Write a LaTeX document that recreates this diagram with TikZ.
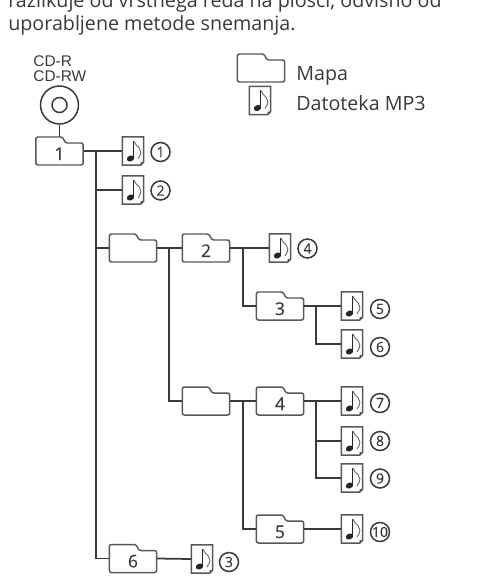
\documentclass[tikz,border=0pt]{standalone}
\usepackage{fontspec}
\setmainfont{Open Sans}
\newfontfamily\cdfont{Liberation Sans}
\newfontfamily\digitfont{Open Sans}[FakeBold=0.25]
\definecolor{inkgray}{HTML}{3A3A3A}
\tikzset{
  conn/.style={draw=inkgray,line width=1pt},
  outline/.style={draw=inkgray!85,line width=0.85pt,rounded corners=1.2pt},
  foldbox/.style={minimum width=0.95cm,minimum height=0.56cm,inner sep=0pt,text=inkgray,font=\digitfont\fontsize{10}{10}\selectfont},
  notebox/.style={minimum width=0.43cm,minimum height=0.57cm,inner sep=0pt},
  numcircle/.style={circle,draw=inkgray,line width=0.85pt,minimum size=0.38cm,inner sep=0pt,text=inkgray,font=\digitfont\fontsize{8}{8}\selectfont},
  plaintext/.style={anchor=base west,inner sep=0pt,text=inkgray},
}
% mapa: ime, sredisce, besedilo
\newcommand{\folder}[3]{
  \begin{scope}[shift={(#2)}]
    \node[foldbox] (#1) at (0,0) {\raisebox{-0.18cm}[0pt][0pt]{#3}};
    \draw[outline] (-23.7,-14) -- (3,-14) -- (6,-8) -- (23.7,-8) -- (23.7,14) -- (-23.7,14) -- cycle;
  \end{scope}
}
% datoteka: ime, sredisce
\newcommand{\mpfile}[2]{
  \begin{scope}[shift={(#2)}]
    \node[notebox] (#1) at (0,0) {};
    \draw[draw=inkgray!85,line width=0.85pt] (-10.7,-14.2) -- (10.7,-14.2) -- (10.7,11) -- (7.5,14.2) -- (-10.7,14.2) -- cycle;
    \fill[inkgray!85] (10.7,11) -- (7.5,14.2) -- (7.5,11) -- cycle;
    \fill[black!85,rotate around={25:(-2.5,7.5)}] (-2.5,7.5) ellipse (3.8 and 2.9);
    \draw[black!85,line width=0.7pt] (0.8,6.5) -- (0.8,-10);
    \draw[black!60,line width=0.5pt] (0.8,-10) .. controls (2,-4) and (13,-3) .. (5,8);
  \end{scope}
}
\begin{document}
\begin{tikzpicture}[x=0.02cm,y=-0.02cm]
  \path[use as bounding box,fill=white] (0,0) rectangle (480,581);
  % besedilo zgoraj
  \node[plaintext,font=\fontsize{11.2}{12}\selectfont] (line1) at (8,8) {razlikuje od vrstnega reda na plošči, odvisno od};
  \node[plaintext,font=\fontsize{11.2}{12}\selectfont] (line2) at (8,31) {uporabljene metode snemanja.};
  % plosca
  \node[plaintext,font=\cdfont\fontsize{8.8}{9}\selectfont] (cdr) at (33,67) {CD-R};
  \node[plaintext,font=\cdfont\fontsize{8.8}{9}\selectfont] (cdrw) at (33,82) {CD-RW};
  \node[circle,draw=inkgray,line width=0.85pt,minimum size=0.76cm,inner sep=0pt] (disc) at (59.5,105) {};
  \node[circle,draw=inkgray,line width=0.85pt,minimum size=0.3cm,inner sep=0pt] (hole) at (59.5,105) {};
  % legenda
  \folder{legfold}{261,68}{}
  \mpfile{legfile}{260,100.5}
  \node[plaintext,font=\fontsize{11.2}{12}\selectfont] (mapa) at (296,81) {Mapa};
  \node[plaintext,font=\fontsize{11.2}{12}\selectfont] (datoteka) at (296,111) {Datoteka MP3};
  % mape
  \folder{fold1}{59.5,151}{1}
  \folder{foldA}{133,248}{}
  \folder{fold2}{206,248}{2}
  \folder{fold3}{280,306}{3}
  \folder{foldB}{206,401}{}
  \folder{fold4}{280,401}{4}
  \folder{fold5}{280,529}{5}
  \folder{fold6}{133,558.5}{6}
  % datoteke
  \mpfile{file1}{133,151}
  \mpfile{file2}{133,190}
  \mpfile{file3}{202,559}
  \mpfile{file4}{280,248}
  \mpfile{file5}{352,306}
  \mpfile{file6}{352,344}
  \mpfile{file7}{352,401}
  \mpfile{file8}{352,441}
  \mpfile{file9}{352,478}
  \mpfile{file10}{352,529}
  % stevilke
  \node[numcircle] (num1) at (160.5,152) {1};
  \node[numcircle] (num2) at (160.5,190.5) {2};
  \node[numcircle] (num3) at (229,562) {3};
  \node[numcircle] (num4) at (307.5,248.5) {4};
  \node[numcircle] (num5) at (380,309) {5};
  \node[numcircle] (num6) at (380,347) {6};
  \node[numcircle] (num7) at (380,403) {7};
  \node[numcircle] (num8) at (380,441) {8};
  \node[numcircle] (num9) at (380,478.5) {9};
  \node[numcircle] (num10) at (380,532) {10};
  % razcepi
  \coordinate (trunk) at (96,151);
  \coordinate (splitA) at (169,248);
  \coordinate (split2) at (243,248);
  \coordinate (split3) at (316,306);
  \coordinate (split4) at (243,401);
  \coordinate (split7) at (316,401);
  % povezave
  \draw[conn] (disc) -- (fold1.north);
  \draw[conn] (fold1.east) -- (file1.west);
  \draw[conn] (trunk) |- (file2.west);
  \draw[conn] (trunk) |- (foldA.west);
  \draw[conn] (trunk) |- (fold6.west);
  \draw[conn] (fold6.east) -- (file3.west);
  \draw[conn] (foldA.east) -- (fold2.west);
  \draw[conn] (splitA) |- (foldB.west);
  \draw[conn] (fold2.east) -- (file4.west);
  \draw[conn] (split2) |- (fold3.west);
  \draw[conn] (fold3.east) -- (file5.west);
  \draw[conn] (split3) |- (file6.west);
  \draw[conn] (foldB.east) -- (fold4.west);
  \draw[conn] (split4) |- (fold5.west);
  \draw[conn] (fold4.east) -- (file7.west);
  \draw[conn] (split7) |- (file8.west);
  \draw[conn] (split7) |- (file9.west);
  \draw[conn] (fold5.east) -- (file10.west);
\end{tikzpicture}
\end{document}
